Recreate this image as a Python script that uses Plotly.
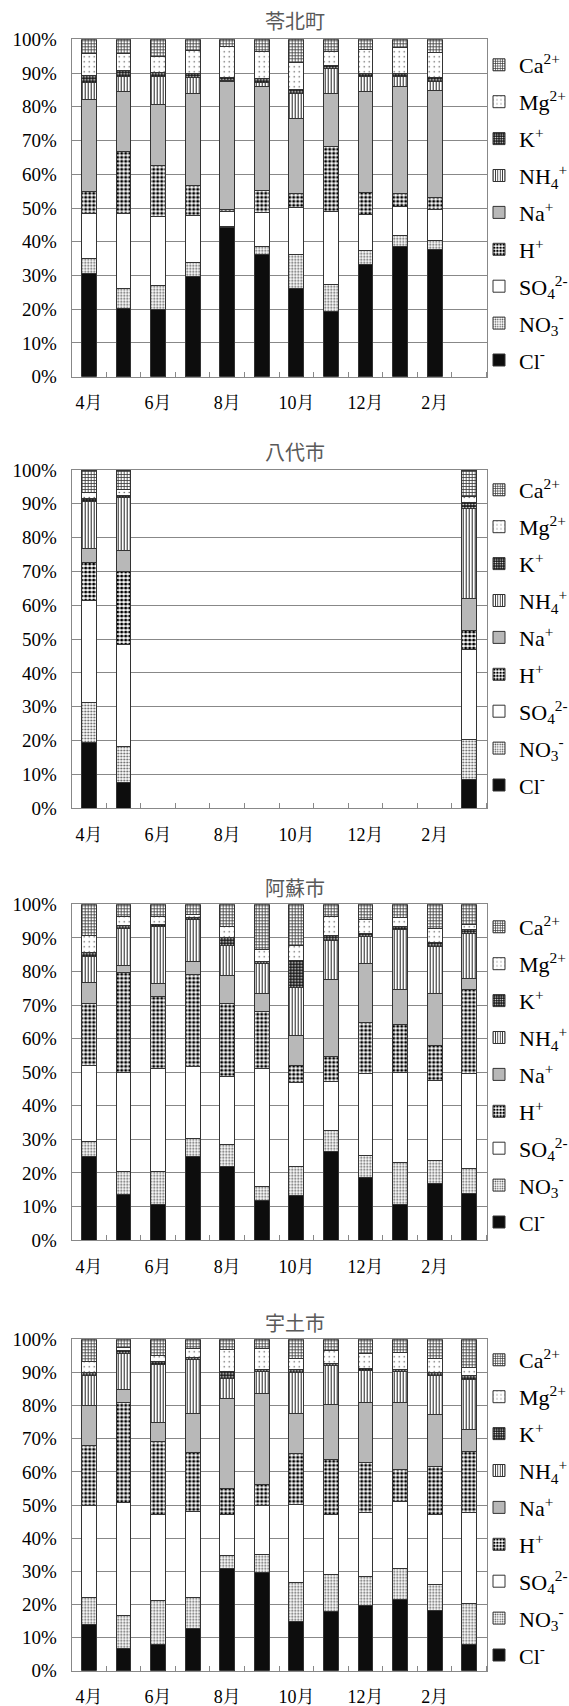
import plotly.graph_objects as go

MONTHS = ["4月", "5月", "6月", "7月", "8月", "9月", "10月", "11月", "12月", "1月", "2月", "3月"]
TICK_TEXT = ["4月", "6月", "8月", "10月", "12月", "2月"]
SITES = ["苓北町", "八代市", "阿蘇市", "宇土市"]
ION_LABELS = ["Cl<sup>-</sup>", "NO<sub>3</sub><sup>-</sup>", "SO<sub>4</sub><sup>2-</sup>",
              "H<sup>+</sup>", "Na<sup>+</sup>", "NH<sub>4</sub><sup>+</sup>",
              "K<sup>+</sup>", "Mg<sup>2+</sup>", "Ca<sup>2+</sup>"]
Y_TICKS = [0, 10, 20, 30, 40, 50, 60, 70, 80, 90, 100]
Y_TICK_TEXT = [f"{v}%" for v in Y_TICKS]

# 苓北町 (percent of total ions)
reihoku_cl = [30.7, 20.1, 20.0, 29.8, 44.3, 36.2, 26.0, 19.4, 33.2, 38.7, 37.6, None]
reihoku_no3 = [4.2, 6.1, 7.0, 4.1, 0.2, 2.4, 10.1, 7.8, 4.3, 3.1, 2.7, None]
reihoku_so4 = [13.6, 22.1, 20.4, 14.0, 4.6, 10.1, 14.1, 21.8, 10.7, 8.7, 9.2, None]
reihoku_h = [6.3, 18.5, 15.1, 8.7, 0.5, 6.6, 4.0, 19.3, 6.5, 3.7, 3.5, None]
reihoku_na = [27.5, 17.7, 18.2, 27.2, 37.9, 30.7, 22.4, 15.7, 29.8, 31.9, 31.8, None]
reihoku_nh4 = [4.8, 4.4, 8.4, 4.9, 0.3, 1.3, 7.2, 7.2, 4.4, 2.9, 2.7, None]
reihoku_k = [2.3, 1.8, 1.0, 1.3, 0.9, 1.1, 1.2, 1.0, 1.0, 1.0, 1.2, None]
reihoku_mg = [6.5, 5.2, 4.8, 6.6, 9.2, 8.0, 8.2, 4.2, 7.2, 7.6, 7.4, None]
reihoku_ca = [4.1, 4.1, 5.1, 3.4, 2.1, 3.6, 6.8, 3.6, 2.9, 2.4, 3.9, None]

# 八代市
yatsushiro_cl = [19.4, 7.6, None, None, None, None, None, None, None, None, None, 8.4]
yatsushiro_no3 = [12.0, 10.8, None, None, None, None, None, None, None, None, None, 11.8]
yatsushiro_so4 = [29.9, 29.9, None, None, None, None, None, None, None, None, None, 26.8]
yatsushiro_h = [11.3, 21.6, None, None, None, None, None, None, None, None, None, 5.5]
yatsushiro_na = [4.1, 6.4, None, None, None, None, None, None, None, None, None, 9.4]
yatsushiro_nh4 = [13.9, 15.5, None, None, None, None, None, None, None, None, None, 26.8]
yatsushiro_k = [1.0, 0.7, None, None, None, None, None, None, None, None, None, 1.6]
yatsushiro_mg = [1.7, 1.6, None, None, None, None, None, None, None, None, None, 1.8]
yatsushiro_ca = [6.7, 5.9, None, None, None, None, None, None, None, None, None, 7.9]

# 阿蘇市
aso_cl = [24.8, 13.5, 10.7, 24.8, 22.0, 11.9, 13.4, 26.3, 18.7, 10.6, 16.7, 13.9]
aso_no3 = [4.5, 6.9, 9.7, 5.5, 6.3, 4.0, 8.4, 6.3, 6.4, 12.4, 6.9, 7.5]
aso_so4 = [22.8, 29.5, 30.7, 21.3, 20.4, 35.2, 25.2, 14.6, 24.4, 27.0, 23.9, 28.3]
aso_h = [18.4, 29.7, 21.4, 27.6, 21.8, 17.0, 5.0, 7.4, 15.4, 14.3, 10.3, 24.8]
aso_na = [6.2, 2.2, 4.0, 3.9, 8.4, 5.2, 8.9, 22.9, 17.5, 10.2, 15.7, 3.5]
aso_nh4 = [7.7, 11.0, 16.8, 12.4, 8.7, 9.0, 14.3, 11.7, 7.9, 17.9, 13.9, 13.2]
aso_k = [1.3, 1.0, 0.8, 0.6, 2.6, 0.7, 8.2, 1.4, 0.9, 1.0, 1.2, 1.2]
aso_mg = [4.9, 2.5, 2.2, 1.0, 3.3, 3.4, 4.3, 5.9, 4.3, 2.7, 4.2, 1.6]
aso_ca = [9.4, 3.7, 3.7, 2.9, 6.5, 13.6, 12.3, 3.5, 4.5, 3.9, 7.2, 6.0]

# 宇土市
uto_cl = [14.0, 6.7, 7.9, 12.6, 30.7, 29.7, 14.8, 17.8, 19.6, 21.5, 18.1, 7.9]
uto_no3 = [8.1, 10.1, 13.2, 9.5, 4.2, 5.5, 11.8, 11.3, 8.8, 9.4, 8.0, 12.4]
uto_so4 = [27.9, 33.9, 25.9, 25.9, 12.1, 14.6, 23.6, 17.9, 19.3, 20.3, 20.9, 27.4]
uto_h = [18.1, 30.3, 22.1, 17.8, 8.0, 6.5, 15.4, 16.8, 15.1, 9.4, 14.6, 18.3]
uto_na = [12.0, 3.9, 5.9, 11.7, 27.2, 27.2, 11.9, 16.4, 18.2, 20.4, 15.8, 6.8]
uto_nh4 = [8.9, 10.9, 17.3, 16.3, 6.0, 6.7, 12.5, 11.9, 9.5, 9.2, 11.8, 15.2]
uto_k = [0.9, 0.8, 1.0, 0.7, 2.0, 0.7, 0.9, 0.7, 0.7, 0.8, 0.8, 1.0]
uto_mg = [3.4, 0.9, 1.8, 2.8, 6.6, 6.4, 3.4, 3.8, 4.6, 5.1, 4.1, 2.5]
uto_ca = [6.7, 2.5, 4.9, 2.7, 3.2, 2.7, 5.7, 3.4, 4.2, 3.9, 5.9, 8.5]

SITE_DATA = [
    [reihoku_cl, reihoku_no3, reihoku_so4, reihoku_h, reihoku_na, reihoku_nh4, reihoku_k, reihoku_mg, reihoku_ca],
    [yatsushiro_cl, yatsushiro_no3, yatsushiro_so4, yatsushiro_h, yatsushiro_na, yatsushiro_nh4, yatsushiro_k, yatsushiro_mg, yatsushiro_ca],
    [aso_cl, aso_no3, aso_so4, aso_h, aso_na, aso_nh4, aso_k, aso_mg, aso_ca],
    [uto_cl, uto_no3, uto_so4, uto_h, uto_na, uto_nh4, uto_k, uto_mg, uto_ca],
]

# styles per ion: (bg color, pattern shape, fg color, size, solidity)
STYLES = [
    ("#0d0d0d", "", None, None, None),
    ("#ffffff", ".", "#555555", 3, 0.3),
    ("#ffffff", "", None, None, None),
    ("#ffffff", ".", "#000000", 4, 0.5),
    ("#b8b8b8", "", None, None, None),
    ("#ffffff", "|", "#222222", 3, 0.35),
    ("#1a1a1a", ".", "#ffffff", 3, 0.25),
    ("#ffffff", ".", "#444444", 5, 0.06),
    ("#ffffff", "+", "#333333", 3, 0.45),
]

X_POS = list(range(len(MONTHS)))
TICK_POS = [MONTHS.index(t) for t in TICK_TEXT]

W, H = 569, 1706
X0, X1 = 71.7, 486.5
PANELS = [  # (plot top px, plot bottom px, title center px, legend top px)
    (39.3, 376.7, 20, 44),
    (470.0, 808.3, 452, 469),
    (904.3, 1240.0, 887, 906),
    (1339.3, 1670.7, 1322, 1339),
]

SERIF = "Liberation Serif, Times New Roman, Noto Serif CJK JP, Noto Sans CJK JP, serif"

fig = go.Figure()
layout = dict(
    width=W, height=H, margin=dict(l=0, r=0, t=0, b=0, autoexpand=False),
    paper_bgcolor="white", plot_bgcolor="white",
    barmode="stack", showlegend=True,
    font=dict(family=SERIF, color="#000000"),
)
annotations = []
for p, (site, data) in enumerate(zip(SITES, SITE_DATA)):
    n = p + 1
    sfx = "" if n == 1 else str(n)
    leg = "legend" if n == 1 else f"legend{n}"
    for i, (vals, lab, st) in enumerate(zip(data, ION_LABELS, STYLES)):
        bg, shape, fg, size, sol = st
        marker = dict(color=bg, line=dict(color="#333333", width=1))
        if shape:
            marker["pattern"] = dict(shape=shape, fgcolor=fg, bgcolor=bg, size=size,
                                     solidity=sol, fillmode="replace")
        fig.add_trace(go.Bar(
            x=X_POS, y=vals, name=lab, marker=marker, width=0.43,
            xaxis="x" + sfx, yaxis="y" + sfx, legend=leg,
            legendgroup=f"g{n}_{i}", legendrank=1000 - 10 * i,
        ))
    top, bot, ttl, ltop = PANELS[p]
    layout["xaxis" + sfx] = dict(
        domain=[X0 / W, X1 / W], anchor="y" + sfx, automargin=False,
        range=[-0.5, 11.5], tickmode="array", tickvals=TICK_POS, ticktext=TICK_TEXT,
        ticks="", tickangle=0,
        minor=dict(ticks="inside", tick0=-0.5, dtick=1, ticklen=5, tickcolor="#888888",
                   showgrid=False),
        showline=True, mirror=True, linecolor="#888888", linewidth=1,
        showgrid=False, zeroline=False, tickfont=dict(family=SERIF, size=18, color="#000"),
        ticklabelstandoff=10,
    )
    layout["yaxis" + sfx] = dict(
        domain=[1 - bot / H, 1 - top / H], anchor="x" + sfx, automargin=False,
        range=[0, 100], tickmode="array", tickvals=Y_TICKS, ticktext=Y_TICK_TEXT,
        showline=True, mirror=True, linecolor="#888888", linewidth=1,
        showgrid=True, gridcolor="#888888", gridwidth=1, zeroline=False,
        tickfont=dict(family=SERIF, size=19, color="#000"),
        ticklabelstandoff=10,
    )
    layout[leg] = dict(
        x=479 / W, xanchor="left", y=1 - ltop / H, yanchor="top",
        traceorder="grouped", tracegroupgap=5.3,
        font=dict(family=SERIF, size=22, color="#000"),
        bgcolor="rgba(0,0,0,0)", itemwidth=30,
    )
    annotations.append(dict(
        text=site, x=295 / W, y=1 - ttl / H, xref="paper", yref="paper",
        xanchor="center", yanchor="middle", showarrow=False,
        font=dict(family="Noto Sans CJK JP", size=20, color="#595959"),
    ))
layout["annotations"] = annotations
fig.update_layout(**layout)
fig.write_html(
    "out.html",
    config={"displayModeBar": False},
    post_script="document.documentElement.style.margin='0';document.body.style.margin='0';"
                "document.body.style.padding='0';document.body.style.overflow='hidden';",
)
